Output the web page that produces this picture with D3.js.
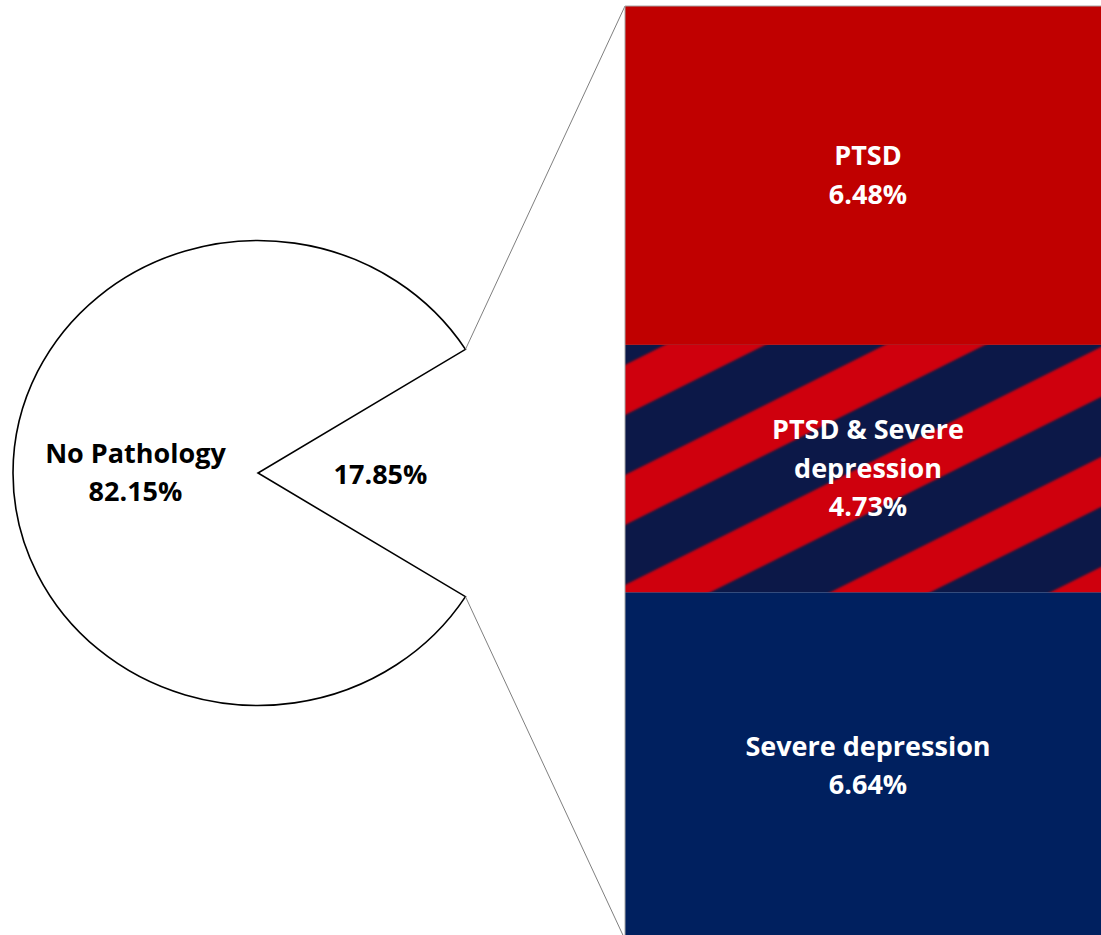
<!DOCTYPE html>
<html>
<head>
<meta charset="utf-8">
<script src="https://cdn.jsdelivr.net/npm/d3@7"></script>
<style>
  html, body { margin: 0; padding: 0; background: #ffffff; }
  svg { display: block; }
  text { font-family: "Open Sans", Lato, sans-serif; font-weight: 700; }
</style>
</head>
<body>
<svg id="chart" width="1101" height="935"></svg>
<script>
// Main pie: share of the whole sample
const pieCategories = ["No Pathology", "Pathology"];
const pieValues = [82.15, 17.85];

// Breakdown of the pathology share, stacked top to bottom
const barCategories = ["PTSD", "PTSD & Severe depression", "Severe depression"];
const barValues = [6.48, 4.73, 6.64];
const barLabelLines = [["PTSD", "6.48%"], ["PTSD & Severe", "depression", "4.73%"], ["Severe depression", "6.64%"]];
const pieLabelLines = [["No Pathology", "82.15%"], ["17.85%"]];

const svg = d3.select("#chart");

// ---- Pie (slightly flattened, as an ellipse) ----
const cx = 258, cy = 473, rx = 245, ry = 232.5;
const totalPie = d3.sum(pieValues);
const halfGap = Math.PI * pieValues[1] / totalPie; // half of the exploded wedge angle
const pie = d3.pie().sort(null)
  .startAngle(Math.PI / 2 + halfGap)
  .endAngle(Math.PI / 2 + halfGap + 2 * Math.PI);
const slices = pie(pieValues);

const arc = d3.arc().innerRadius(0).outerRadius(rx);
const labelArc = d3.arc().innerRadius(rx * 0.5).outerRadius(rx * 0.5);

const pieG = svg.append("g")
  .attr("transform", `translate(${cx},${cy}) scale(1,${ry / rx})`);

pieG.append("path")
  .datum(slices[0])
  .attr("d", arc)
  .attr("fill", "#ffffff")
  .attr("stroke", "#000000")
  .attr("stroke-width", 1.6)
  .attr("stroke-linejoin", "miter")
  .attr("vector-effect", "non-scaling-stroke");

// ---- Stacked bar for the pathology breakdown ----
const barX0 = 625, barX1 = 1111;
const barTop = 6;
const pxPerUnit = 52.3;
const barTotal = d3.sum(barValues);
const y = d3.scaleLinear().domain([0, barTotal]).range([barTop, barTop + barTotal * pxPerUnit]);

const stackData = [];
let acc = 0;
barValues.forEach((v, i) => {
  stackData.push({ name: barCategories[i], value: v, y0: acc, y1: acc + v, lines: barLabelLines[i] });
  acc += v;
});

// Connector lines from the wedge edge to the bar
const endPt = (ang) => [cx + rx * Math.sin(ang), cy - ry * Math.cos(ang)];
const pUpper = endPt(Math.PI / 2 - halfGap);
const pLower = endPt(Math.PI / 2 + halfGap);
svg.append("line")
  .attr("x1", pUpper[0]).attr("y1", pUpper[1])
  .attr("x2", barX0).attr("y2", y(0))
  .attr("stroke", "#7f7f7f").attr("stroke-width", 1);
svg.append("line")
  .attr("x1", pLower[0]).attr("y1", pLower[1])
  .attr("x2", barX0).attr("y2", y(barTotal))
  .attr("stroke", "#7f7f7f").attr("stroke-width", 1);

const defs = svg.append("defs");
defs.append("filter").attr("id", "soft")
  .attr("x", "-5%").attr("y", "-5%").attr("width", "110%").attr("height", "110%")
  .append("feGaussianBlur").attr("stdDeviation", 0.8);

const fills = ["#c00000", "#0c1848", "#00205f"];

const segG = svg.append("g");
stackData.forEach((d, i) => {
  segG.append("rect")
    .attr("x", barX0)
    .attr("y", y(d.y0))
    .attr("width", barX1 - barX0)
    .attr("height", y(d.y1) - y(d.y0))
    .attr("fill", fills[i]);
});

// Diagonal red stripes over the combined segment
const mid = stackData[1];
const clip = defs.append("clipPath").attr("id", "midClip");
clip.append("rect")
  .attr("x", barX0).attr("y", y(mid.y0))
  .attr("width", barX1 - barX0).attr("height", y(mid.y1) - y(mid.y0));

const period = 110, redH = 50, slope = 0.5, phase = 20;
const span = barX1 - barX0;
const stripeG = svg.append("g").attr("clip-path", "url(#midClip)")
  .append("g").attr("filter", "url(#soft)");
d3.range(-2, 8).forEach(k => {
  const yTop = y(mid.y0) + phase + k * period;
  const pts = [
    [barX0 - 5, yTop + 5 * slope],
    [barX1 + 5, yTop - (span + 5) * slope],
    [barX1 + 5, yTop - (span + 5) * slope + redH],
    [barX0 - 5, yTop + 5 * slope + redH]
  ];
  stripeG.append("polygon")
    .attr("points", pts.map(p => p.join(",")).join(" "))
    .attr("fill", "#cf0010");
});

// Thin outline on the bar's left and top edges
svg.append("line")
  .attr("x1", barX0).attr("y1", y(0))
  .attr("x2", barX0).attr("y2", y(barTotal))
  .attr("stroke", "#a6a6a6").attr("stroke-width", 1);
svg.append("line")
  .attr("x1", barX0).attr("y1", y(0))
  .attr("x2", barX1).attr("y2", y(0))
  .attr("stroke", "#a6a6a6").attr("stroke-width", 1);

// ---- Labels ----
const fontSize = 27;
const lineH = 38.5;
const capHalf = 9;

stackData.forEach(d => {
  const ym = (y(d.y0) + y(d.y1)) / 2;
  const n = d.lines.length;
  const first = ym - (n - 1) * lineH / 2 + capHalf;
  const t = svg.append("text")
    .attr("text-anchor", "middle")
    .attr("font-size", fontSize)
    .attr("fill", "#ffffff");
  d.lines.forEach((ln, j) => {
    t.append("tspan").attr("x", (barX0 + barX1) / 2).attr("y", first + j * lineH).text(ln);
  });
});

slices.forEach((s, i) => {
  const c = labelArc.centroid(s);
  const lx = cx + c[0];
  const lyMid = cy + c[1] * ry / rx;
  const lines = pieLabelLines[i];
  const n = lines.length;
  const first = lyMid - (n - 1) * lineH / 2 + capHalf + (n === 1 ? 2 : 0);
  const t = svg.append("text")
    .attr("text-anchor", "middle")
    .attr("font-size", fontSize)
    .attr("fill", "#000000");
  lines.forEach((ln, j) => {
    t.append("tspan").attr("x", lx).attr("y", first + j * lineH).text(ln);
  });
});
</script>
</body>
</html>
